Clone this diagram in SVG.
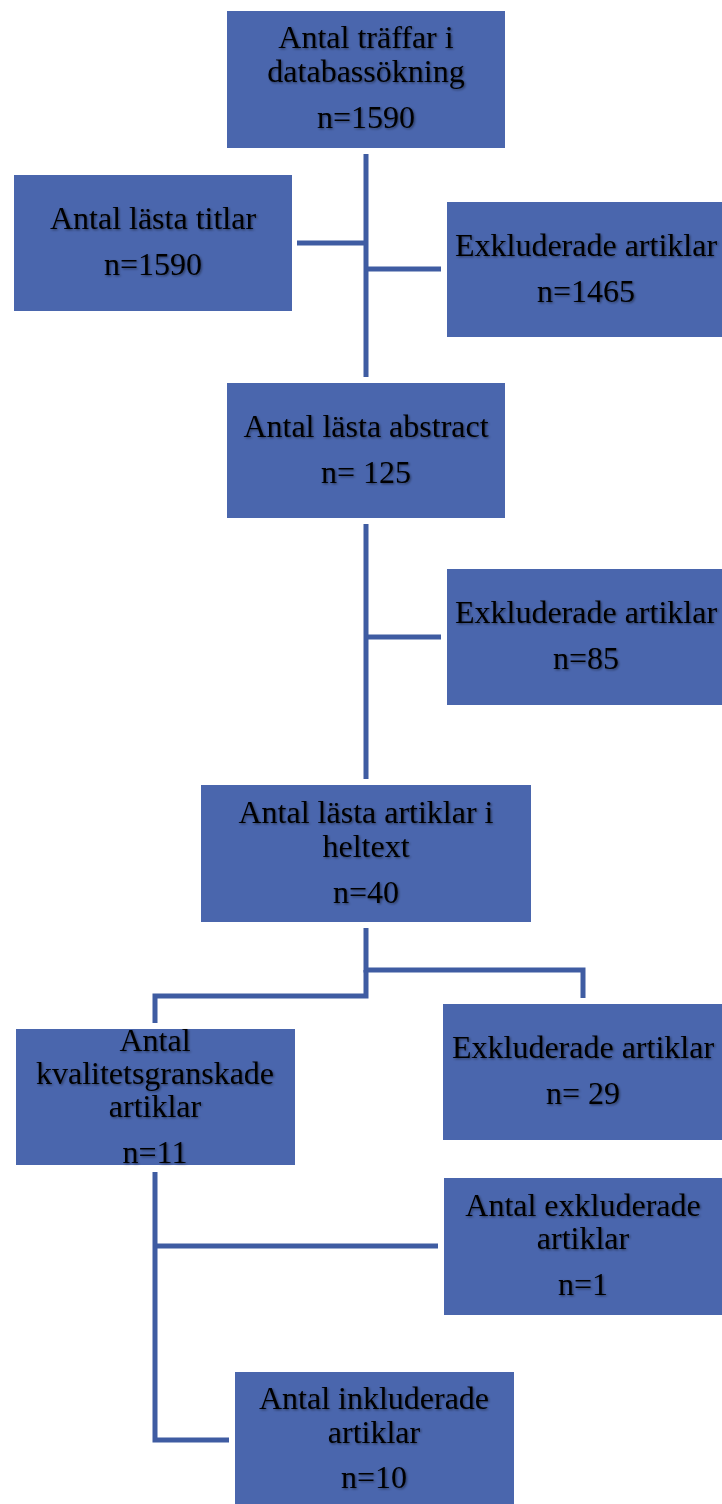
<svg xmlns="http://www.w3.org/2000/svg" width="722" height="1504" viewBox="0 0 722 1504">
<defs>
<filter id="sh" x="-10%" y="-30%" width="120%" height="160%">
<feDropShadow dx="1.2" dy="1.2" stdDeviation="0.8" flood-color="#000" flood-opacity="0.45"/>
</filter>
</defs>
<style>
rect.box { fill: #4a66ad; }
text { font-family: "Liberation Serif", "Times New Roman", serif; font-size: 32px; fill: #000; text-anchor: middle; filter: url(#sh); }
.conn path { fill: none; stroke: #3f5ca2; stroke-width: 5; }
</style>
<rect width="722" height="1504" fill="#fff"/>
<g class="conn">
<path d="M366 154 V377"/>
<path d="M297 243 H366"/>
<path d="M366 269 H441"/>
<path d="M366 524 V779"/>
<path d="M366 637 H441"/>
<path d="M366 928 V970 H583 V998"/>
<path d="M366 970 V996 H155 V1023"/>
<path d="M155 1172 V1440 H229"/>
<path d="M155 1246 H438"/>
</g>
<g id="n1"><rect class="box" x="227" y="11" width="278" height="137"/>
<text x="366" y="48">Antal träffar i</text><text x="366" y="82">databassökning</text><text x="366" y="128">n=1590</text></g>
<g id="n2"><rect class="box" x="14" y="175" width="278" height="136"/>
<text x="153" y="229">Antal lästa titlar</text><text x="153" y="275">n=1590</text></g>
<g id="n3"><rect class="box" x="447" y="202" width="275" height="135"/>
<text x="586" y="256">Exkluderade artiklar</text><text x="586" y="302">n=1465</text></g>
<g id="n4"><rect class="box" x="227" y="383" width="278" height="135"/>
<text x="366" y="437">Antal lästa abstract</text><text x="366" y="483">n= 125</text></g>
<g id="n5"><rect class="box" x="447" y="569" width="275" height="136"/>
<text x="586" y="623">Exkluderade artiklar</text><text x="586" y="669">n=85</text></g>
<g id="n6"><rect class="box" x="201" y="785" width="330" height="137"/>
<text x="366" y="823">Antal lästa artiklar i</text><text x="366" y="857">heltext</text><text x="366" y="903">n=40</text></g>
<g id="n7"><rect class="box" x="16" y="1029" width="279" height="136"/>
<text x="155" y="1051">Antal</text><text x="155" y="1084">kvalitetsgranskade</text><text x="155" y="1117">artiklar</text><text x="155" y="1163">n=11</text></g>
<g id="n8"><rect class="box" x="443" y="1004" width="279" height="136"/>
<text x="583" y="1058">Exkluderade artiklar</text><text x="583" y="1104">n= 29</text></g>
<g id="n9"><rect class="box" x="444" y="1178" width="278" height="137"/>
<text x="583" y="1216">Antal exkluderade</text><text x="583" y="1249">artiklar</text><text x="583" y="1295">n=1</text></g>
<g id="n10"><rect class="box" x="235" y="1372" width="279" height="132"/>
<text x="374" y="1409">Antal inkluderade</text><text x="374" y="1443">artiklar</text><text x="374" y="1488">n=10</text></g>
</svg>
